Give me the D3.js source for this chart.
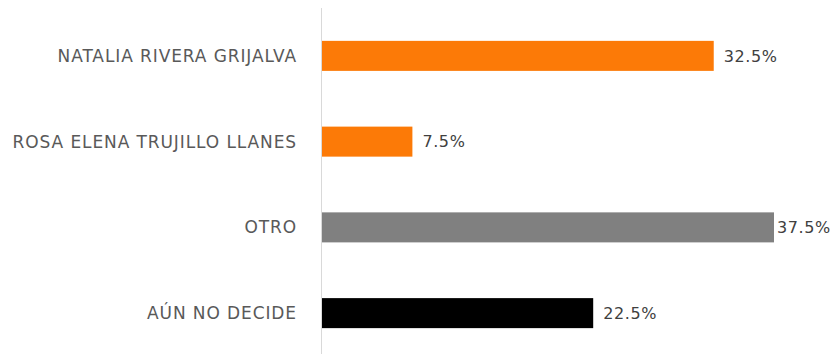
<!DOCTYPE html>
<html>
<head>
<meta charset="utf-8">
<script src="https://cdn.jsdelivr.net/npm/d3@7"></script>
<style>
  body { margin: 0; background: #fff; }
  svg { display: block; }
</style>
</head>
<body>
<script>
var width = 838;
var height = 354;

// candidates, top to bottom
var categories = ["NATALIA RIVERA GRIJALVA", "ROSA ELENA TRUJILLO LLANES", "OTRO", "AÚN NO DECIDE"];
var values = [32.5, 7.5, 37.5, 22.5];
var barColors = ["#fc7a07", "#fc7a07", "#808080", "#000000"];

var svg = d3.select("body")
    .append("svg")
    .attr("width", width)
    .attr("height", height);

svg.append("rect")
    .attr("width", "100%")
    .attr("height", "100%")
    .attr("fill", "#fff");

var x = d3.scaleLinear()
    .domain([0, d3.max(values)])
    .range([322, 774]);

var y = d3.scaleBand()
    .domain(categories)
    .range([13, 356])
    .paddingInner(0.65)
    .paddingOuter(0.325);

// vertical axis line
svg.append("line")
    .attr("x1", 321.5).attr("x2", 321.5)
    .attr("y1", 8).attr("y2", height)
    .style("stroke", "#d9d9d9")
    .style("stroke-width", "1px");

var rows = categories.map(function(c, i) {
    return { name: c, value: values[i], color: barColors[i] };
});

svg.append("g")
    .selectAll("rect")
    .data(rows)
    .enter().append("rect")
    .attr("x", x(0))
    .attr("y", function(d) { return y(d.name); })
    .attr("width", function(d) { return x(d.value) - x(0); })
    .attr("height", y.bandwidth())
    .style("fill", function(d) { return d.color; });

// category labels
svg.append("g")
    .selectAll("text")
    .data(rows)
    .enter().append("text")
    .attr("x", 297)
    .attr("y", function(d) { return y(d.name) + y.bandwidth() / 2; })
    .attr("dy", "0.36em")
    .attr("text-anchor", "end")
    .style("font-family", "'DejaVu Sans', sans-serif")
    .style("font-size", "17px")
    .style("letter-spacing", "0.9px")
    .style("fill", "#595959")
    .text(function(d) { return d.name; });

// value labels
svg.append("g")
    .selectAll("text")
    .data(rows)
    .enter().append("text")
    .attr("x", function(d) { return Math.min(x(d.value) + 10, 777); })
    .attr("y", function(d) { return y(d.name) + y.bandwidth() / 2; })
    .attr("dy", "0.36em")
    .style("font-family", "'DejaVu Sans', sans-serif")
    .style("font-size", "16px")
    .style("letter-spacing", "0.6px")
    .style("fill", "#404040")
    .text(function(d) { return d.value.toFixed(1) + "%"; });
</script>
</body>
</html>
